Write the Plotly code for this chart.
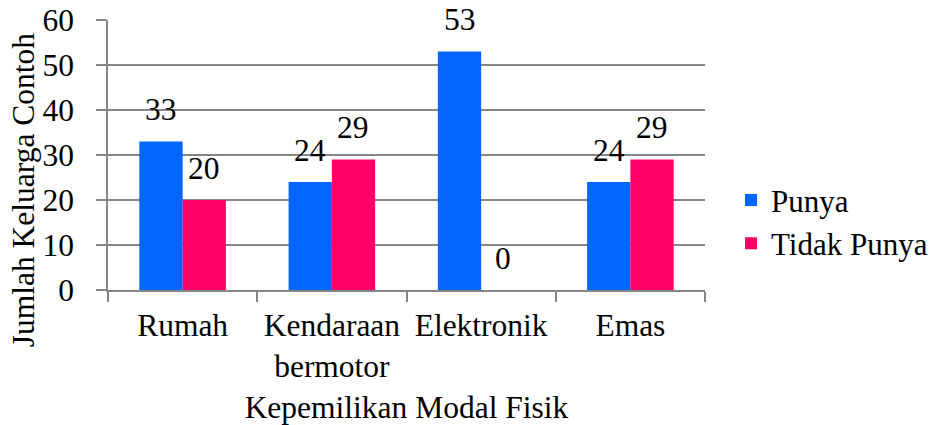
import plotly.graph_objects as go

categories = ["Rumah", "Kendaraan<br>bermotor", "Elektronik", "Emas"]
punya = [33, 24, 53, 24]
tidak_punya = [20, 29, 0, 29]
series_names = ["Punya", "Tidak Punya"]
colors = ["#0066FF", "#FF0066"]
y_ticks = [0, 10, 20, 30, 40, 50, 60]
x_title = "Kepemilikan Modal Fisik"
y_title = "Jumlah Keluarga Contoh"

FONT = "Liberation Serif"
FS = 31.5

fig = go.Figure()
for name, vals, col in zip(series_names, [punya, tidak_punya], colors):
    fig.add_trace(go.Bar(x=categories, y=vals, name=name, marker_color=col,
                         marker_line_width=0))

annotations = []
for i, (name, vals) in enumerate(zip(series_names, [punya, tidak_punya])):
    shift = -21.5 if i == 0 else 21.5
    for c, v in zip(categories, vals):
        annotations.append(dict(x=c, y=v, xref="x", yref="y", text=str(v),
                                showarrow=False, xshift=shift, yshift=32,
                                yanchor="middle",
                                font=dict(family=FONT, size=FS, color="black")))

# y-axis title placed lower than plot centre, as in the reference
annotations.append(dict(text=y_title, xref="paper", yref="paper",
                        x=-0.142, y=0.37, showarrow=False, textangle=-90,
                        xanchor="center", yanchor="middle",
                        font=dict(family=FONT, size=FS, color="black")))

fig.update_layout(
    width=936, height=425,
    margin=dict(l=108, r=231, t=20, b=135, autoexpand=False),
    plot_bgcolor="white", paper_bgcolor="white",
    barmode="group", bargap=0.42, bargroupgap=0,
    font=dict(family=FONT, size=FS, color="black"),
    showlegend=True,
    legend=dict(xref="container", yref="container", x=0.781, y=0.478,
                yanchor="middle", xanchor="left",
                font=dict(family=FONT, size=31, color="black"),
                itemsizing="constant", tracegroupgap=4, itemwidth=30),
    annotations=annotations,
    xaxis=dict(showline=True, linecolor="#868686", linewidth=1.5,
               ticks="outside", tickson="boundaries", ticklen=10,
               tickcolor="#868686", tickwidth=1.5, showgrid=False,
               automargin=False, ticklabelstandoff=6,
               tickfont=dict(family=FONT, size=FS, color="black"),
               title=dict(text=x_title, standoff=18,
                          font=dict(family=FONT, size=FS, color="black"))),
    yaxis=dict(range=[0, 60], tickvals=y_ticks, showline=True,
               linecolor="#868686", linewidth=1.5,
               ticks="outside", ticklen=10, tickcolor="#868686", tickwidth=1.5,
               showgrid=True, gridcolor="#868686", gridwidth=1.5,
               zeroline=False, automargin=False, ticklabelstandoff=16,
               tickfont=dict(family=FONT, size=FS, color="black")),
)

fig.write_html("out.html")
